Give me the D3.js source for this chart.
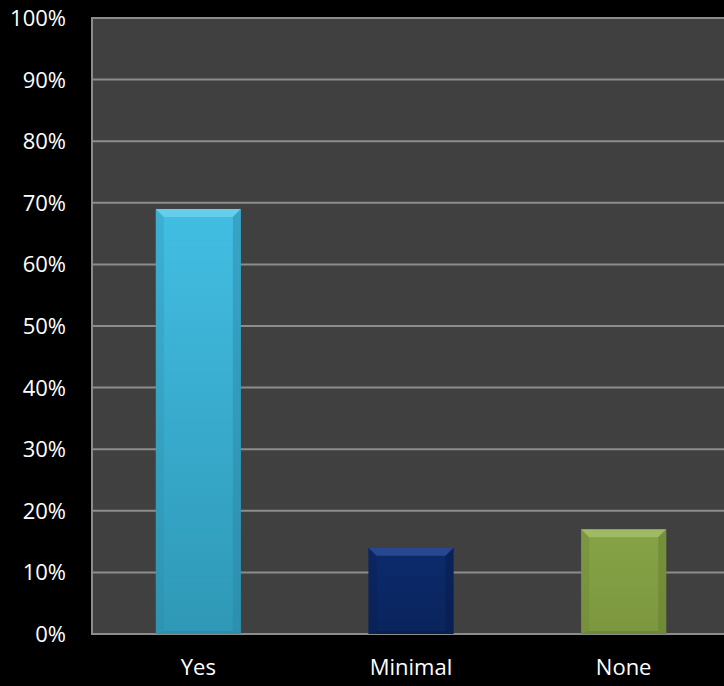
<!DOCTYPE html>
<html>
<head>
<meta charset="utf-8">
<script src="https://cdn.jsdelivr.net/npm/d3@7"></script>
<style>
  html, body { margin: 0; padding: 0; background: #000; }
  svg { display: block; }
</style>
</head>
<body>
<svg id="chart" width="724" height="686"></svg>
<script>
// data
const categories = ["Yes", "Minimal", "None"];
const values     = [0.69, 0.14, 0.17];
const yTicks     = [0, 0.1, 0.2, 0.3, 0.4, 0.5, 0.6, 0.7, 0.8, 0.9, 1.0];

// bar palettes: [top, bottom, bevel light, bevel dark]
const palettes = [
  ["#42bee3", "#2f98b6", "#7fd8f2", "#2a86a3"],
  ["#0c2a6c", "#0a245c", "#3a5ca8", "#061a48"],
  ["#86a346", "#7c973f", "#b0c97a", "#62792e"]
];

const svg = d3.select("#chart");
const W = 724, H = 686;
const margin = { top: 18, right: -6, bottom: 52, left: 92 };
const x0 = margin.left, x1 = W - margin.right;
const yTop = margin.top, yBot = H - margin.bottom;

const x = d3.scaleBand().domain(categories).range([x0, x1]).padding(0);
const y = d3.scaleLinear().domain([0, 1]).range([yBot, yTop]);

const font = "'Open Sans', 'DejaVu Sans', sans-serif";

// plot background
svg.append("rect")
  .attr("x", x0).attr("y", yTop)
  .attr("width", x1 - x0).attr("height", yBot - yTop)
  .attr("fill", "#404040");

// gridlines
svg.append("g")
  .selectAll("line")
  .data(yTicks)
  .join("line")
  .attr("x1", x0).attr("x2", x1)
  .attr("y1", d => y(d)).attr("y2", d => y(d))
  .attr("stroke", "#8c8c8c")
  .attr("stroke-width", 2);

// left axis line
svg.append("line")
  .attr("x1", x0).attr("x2", x0)
  .attr("y1", yTop - 1).attr("y2", yBot + 1)
  .attr("stroke", "#8c8c8c").attr("stroke-width", 2);

// y tick labels
svg.append("g")
  .selectAll("text")
  .data(yTicks)
  .join("text")
  .attr("x", 66)
  .attr("y", d => y(d))
  .attr("dy", "0.36em")
  .attr("text-anchor", "end")
  .attr("fill", "#fff")
  .attr("font-family", font)
  .attr("font-size", "22px")
  .text(d => d3.format(".0%")(d));

// gradients
const defs = svg.append("defs");
palettes.forEach((p, i) => {
  const g = defs.append("linearGradient")
    .attr("id", "face" + i)
    .attr("x1", 0).attr("y1", 0).attr("x2", 0).attr("y2", 1);
  g.append("stop").attr("offset", "0%").attr("stop-color", p[0]);
  g.append("stop").attr("offset", "100%").attr("stop-color", p[1]);
});

// bars with bevel
const barW = x.bandwidth() * 0.4;
const bev = 8;
const bars = svg.append("g")
  .selectAll("g")
  .data(categories.map((c, i) => ({ c, v: values[i], i })))
  .join("g");

bars.each(function(d) {
  const g = d3.select(this);
  const p = palettes[d.i];
  const bx0 = x(d.c) + (x.bandwidth() - barW) / 2;
  const bx1 = bx0 + barW;
  const by0 = y(d.v), by1 = y(0);
  const s = Math.min(bev, (by1 - by0) / 2);
  g.append("rect")
    .attr("x", bx0).attr("y", by0)
    .attr("width", barW).attr("height", by1 - by0)
    .attr("fill", `url(#face${d.i})`);
  // top bevel
  g.append("polygon")
    .attr("points", [[bx0, by0], [bx1, by0], [bx1 - s, by0 + s], [bx0 + s, by0 + s]].join(" "))
    .attr("fill", p[2]).attr("opacity", 0.6);
  // left bevel
  g.append("polygon")
    .attr("points", [[bx0, by0], [bx0 + s, by0 + s], [bx0 + s, by1 - 3], [bx0, by1]].join(" "))
    .attr("fill", p[3]).attr("opacity", 0.25);
  // right bevel
  g.append("polygon")
    .attr("points", [[bx1, by0], [bx1 - s, by0 + s], [bx1 - s, by1 - 3], [bx1, by1]].join(" "))
    .attr("fill", p[3]).attr("opacity", 0.45);
  // bottom bevel
  g.append("polygon")
    .attr("points", [[bx0, by1], [bx0 + s, by1 - 3], [bx1 - s, by1 - 3], [bx1, by1]].join(" "))
    .attr("fill", p[3]).attr("opacity", 0.5);
});

// x labels
svg.append("g")
  .selectAll("text")
  .data(categories)
  .join("text")
  .attr("x", d => x(d) + x.bandwidth() / 2)
  .attr("y", 675)
  .attr("text-anchor", "middle")
  .attr("fill", "#fff")
  .attr("font-family", font)
  .attr("font-size", "22px")
  .text(d => d);
</script>
</body>
</html>
